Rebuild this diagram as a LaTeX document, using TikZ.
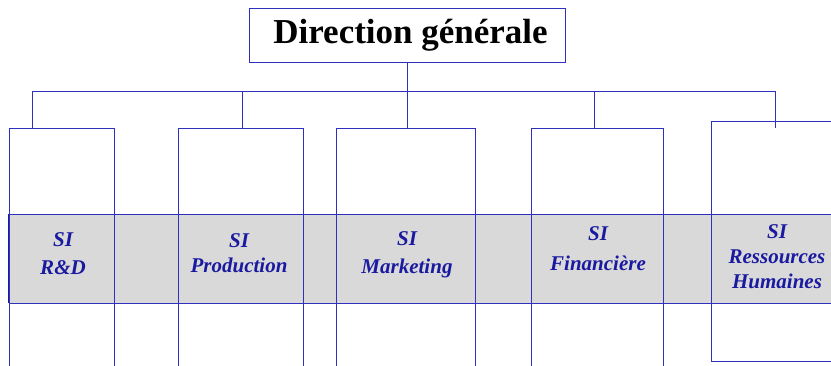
\documentclass[tikz,border=0pt]{standalone}
\usepackage{fontspec}
\setmainfont{Liberation Serif}
\usetikzlibrary{positioning}
\definecolor{lineblue}{HTML}{3030C0}
\definecolor{textblue}{HTML}{1A1AA0}
\definecolor{bandgray}{HTML}{D9D9D9}

\begin{document}
\begin{tikzpicture}[x=1pt, y=-1pt,
  colbox/.style={draw=lineblue, line width=0.9pt, anchor=north west, inner sep=0pt, minimum height=300pt},
  silabel/.style={text=textblue, font=\fontsize{21}{25}\selectfont\bfseries\itshape, align=center, inner sep=0pt},
  link/.style={draw=lineblue, line width=0.9pt}]
\useasboundingbox (0,0) rectangle (831,365);
\clip (0,0) rectangle (831,365);
% gray band
\fill[bandgray] (9,214) rectangle (840,303);
\draw[link] (9,214) -- (840,214) (9,303) -- (840,303);
\draw[draw=textblue, line width=1.4pt] (9,214) -- (9,303);
% columns
\node[colbox, minimum width=105pt] (rd) at (9,128) {};
\node[colbox, minimum width=125pt] (prod) at (178,128) {};
\node[colbox, minimum width=139pt] (mkt) at (336,128) {};
\node[colbox, minimum width=132pt] (fin) at (531,128) {};
\node[colbox, minimum width=200pt, minimum height=240pt] (rh) at (711,121) {};
% top
\node[draw=lineblue, line width=0.9pt, minimum width=316pt, minimum height=54pt, inner sep=0pt,
  font=\fontsize{35}{40}\selectfont\bfseries] (dg) at (407,35) {\hspace*{7pt}Direction générale};
% links
\draw[link] (dg.south) -- (dg.south |- mkt.north);
\foreach \x/\n in {32/rd,242/prod,594/fin,775/rh}
  {\coordinate (t\n) at (\x,91);}
\draw[link] (trd) -- (trh);
\foreach \n in {rd,prod,fin,rh}
  {\draw[link] (t\n) -- (t\n |- mkt.north);}
% labels
\node[silabel] (lrd) at (63,254) {SI\\[3pt]R\&D};
\node[silabel] (lprod) at (239,253) {SI\\Production};
\node[silabel] (lmkt) at (407,255) {SI\\[3pt]Marketing};
\node[silabel] (lfin) at (598,249) {SI\\[5pt]Financière};
\node[silabel] (lrh) at (777,257) {SI\\Ressources\\Humaines};
\end{tikzpicture}
\end{document}
